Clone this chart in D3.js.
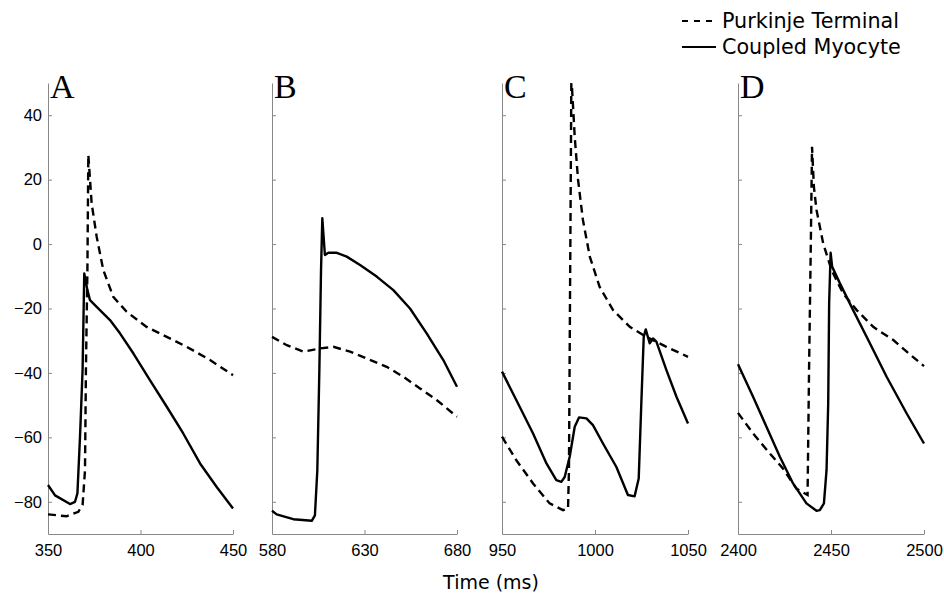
<!DOCTYPE html>
<html lang="en">
<head>
<meta charset="UTF-8">
<title>Purkinje / Myocyte action potentials</title>
<script src="https://d3js.org/d3.v7.min.js"></script>
<style>
  body { margin: 0; background: #fff; }
  .axis path, .axis line { stroke: #888; }
</style>
</head>
<body>
<div id="chart"></div>
<script>
// panel labels and time windows (ms)
const panels = ["A", "B", "C", "D"];
const xDomains = [[350, 450], [580, 680], [950, 1050], [2400, 2500]];
const xTicks = [[350, 400, 450], [580, 630, 680], [950, 1000, 1050], [2400, 2450, 2500]];
const yTicks = [-80, -60, -40, -20, 0, 20, 40];

// membrane potential (mV), [time, value]
const purkA = [[350,-83.9],[360,-84.5],[366.4,-83.1],[368.7,-81],[370,-70.2],[370.5,-39],[371.3,-8],[371.8,27.6],
  [373.6,12.6],[376.3,2.3],[379.9,-8.1],[385.3,-16.4],[392.5,-21],[403.3,-25.7],[414.2,-28.8],[425,-31.9],[437.6,-36],[450,-40.7]];
const myoA = [[350,-74.8],[353.8,-78],[361.9,-80.7],[364.6,-80],[365.9,-77.4],[367.3,-59.8],[368.7,-39],[369.6,-9.1],
  [371.3,-14.3],[372.7,-17.4],[376.3,-19.5],[383.5,-23.6],[388.9,-27.7],[396.1,-33.9],[405.1,-42.2],[414.2,-50.5],
  [423.1,-58.8],[432.2,-68.1],[441.2,-75.4],[450,-82.1]];

const purkB = [[580,-28.8],[588,-31.4],[597,-33.4],[606,-32.4],[613.2,-31.9],[622.2,-33.4],[631.2,-35.5],[642,-38.1],
  [651,-41.2],[660,-44.8],[669,-48.4],[680,-53.6]];
const myoB = [[580,-82.8],[582.5,-83.9],[591.5,-85.4],[601.5,-85.9],[603.2,-84.2],[604.5,-70.2],[605.6,-39.1],[606.5,-8.1],
  [607.2,8],[608.6,-3.4],[610.5,-2.7],[615,-2.7],[620.4,-3.9],[627.6,-6.5],[636.6,-10.1],[645.6,-14.3],[654.6,-20],
  [663.6,-27.7],[672.6,-36],[680,-44.3]];

const purkC = [[950,-59.8],[957.7,-67.1],[966.7,-74.3],[975.6,-80.5],[982.8,-82.6],[985.5,-82.1],[986,-70.2],[987.3,52],
  [989.1,33.3],[990.9,19.9],[993.5,7.5],[997.2,-3.9],[1002.5,-13.3],[1009.7,-20.5],[1018.7,-25.7],[1027.6,-28.8],
  [1038.4,-31.9],[1050,-35]];
const myoC = [[950,-39.6],[959.5,-50.5],[966.7,-58.8],[973.9,-68.1],[979.2,-73.3],[981.9,-73.8],[983.7,-72.3],[986.4,-66],
  [989.1,-56.7],[991.4,-53.8],[995.4,-54.1],[998.9,-56.2],[1004.3,-61.9],[1011.5,-69.2],[1017.7,-77.9],[1021.3,-78.3],
  [1023.5,-72.8],[1024.9,-49.5],[1026.2,-28.8],[1027.3,-26.5],[1029.4,-30.8],[1031.2,-29.3],[1033,-30.3],[1038.4,-39.1],
  [1043.8,-47.4],[1050,-55.7]];

const purkD = [[2400,-52.4],[2408.1,-58.8],[2417.1,-65],[2424.2,-69.7],[2431.4,-75.9],[2437.4,-77.9],[2438.2,-39.1],
  [2439.2,2.3],[2439.8,30.2],[2440.8,17.8],[2442.2,10.6],[2445.8,0.2],[2450.3,-8.1],[2456.5,-15.3],[2463.8,-20.5],
  [2472.7,-25.7],[2483.5,-29.8],[2490.7,-33.4],[2500,-37.9]];
const myoD = [[2400,-37.3],[2408.1,-47.4],[2415.3,-56.7],[2422.5,-66],[2429.6,-74.3],[2436.8,-80.5],[2442.2,-82.8],
  [2444,-82.6],[2446.2,-80.5],[2447.6,-70.2],[2448.5,-49.5],[2449,-18.4],[2449.8,-2.7],[2450.6,-7],[2454.8,-12.2],
  [2461.9,-20.5],[2470.9,-30.8],[2479.9,-41.2],[2490.7,-52.6],[2500,-61.9]];

const purkinje = [purkA, purkB, purkC, purkD];
const myocyte = [myoA, myoB, myoC, myoD];
const legendLabels = ["Purkinje Terminal", "Coupled Myocyte"];

const W = 944, H = 599;
const svg = d3.select("#chart").append("svg").attr("width", W).attr("height", H);

// pixel extents of each subplot
const panelX = [[48, 233], [272, 457], [502, 688], [738, 924]];
const plotTop = 83, plotBottom = 534;
const y = d3.scaleLinear().domain([-90, 50]).range([plotBottom, plotTop]);

svg.append("defs").append("clipPath").attr("id", "clip")
  .append("rect").attr("x", 0).attr("y", plotTop).attr("width", W).attr("height", plotBottom - plotTop);

const styleTicks = a => a.selectAll(".tick text")
  .attr("fill", "#000")
  .style("font-family", "'Liberation Sans', Arial, sans-serif")
  .style("font-size", "16.5px");

panels.forEach((p, i) => {
  const x = d3.scaleLinear().domain(xDomains[i]).range(panelX[i]);
  const g = svg.append("g");

  g.append("g").attr("class", "axis")
    .attr("transform", `translate(0,${plotBottom})`)
    .call(d3.axisBottom(x).tickValues(xTicks[i]).tickFormat(d3.format("d"))
      .tickSize(-4).tickPadding(10).tickSizeOuter(0))
    .call(styleTicks)
    .call(a => a.selectAll("text").attr("dy", "0.71em"));

  const ya = d3.axisLeft(y).tickValues(yTicks).tickSize(-4).tickSizeOuter(0).tickPadding(6)
    .tickFormat(i === 0 ? (d => d3.format("d")(d).replace("-", "\u2212")) : "");
  g.append("g").attr("class", "axis")
    .attr("transform", `translate(${panelX[i][0]},0)`)
    .call(ya)
    .call(styleTicks);

  const line = d3.line().x(d => x(d[0])).y(d => y(d[1]));

  g.append("path").datum(purkinje[i]).attr("d", line)
    .attr("clip-path", "url(#clip)")
    .attr("fill", "none").attr("stroke", "#000").attr("stroke-width", 2.4)
    .attr("stroke-dasharray", "8,5");
  g.append("path").datum(myocyte[i]).attr("d", line)
    .attr("clip-path", "url(#clip)")
    .attr("fill", "none").attr("stroke", "#000").attr("stroke-width", 2.4)
    .attr("stroke-linejoin", "round");

  g.append("text").attr("x", panelX[i][0] + 2).attr("y", plotTop + 15)
    .style("font-family", "'Liberation Serif', 'Times New Roman', serif")
    .style("font-size", "34px").text(p);
});

svg.append("text").attr("x", 491).attr("y", 589).attr("text-anchor", "middle")
  .style("font-family", "'DejaVu Sans', sans-serif").style("font-size", "19px").text("Time (ms)");

// legend
const leg = svg.append("g").attr("transform", "translate(682,0)");
legendLabels.forEach((t, i) => {
  const ly = 21 + i * 26;
  leg.append("line").attr("x1", 0).attr("x2", 34).attr("y1", ly).attr("y2", ly)
    .attr("stroke", "#000").attr("stroke-width", 2)
    .attr("stroke-dasharray", i === 0 ? "6,6" : null);
  leg.append("text").attr("x", 40).attr("y", ly + 7)
    .style("font-family", "'DejaVu Sans', sans-serif").style("font-size", "20.7px").text(t);
});
</script>
</body>
</html>
